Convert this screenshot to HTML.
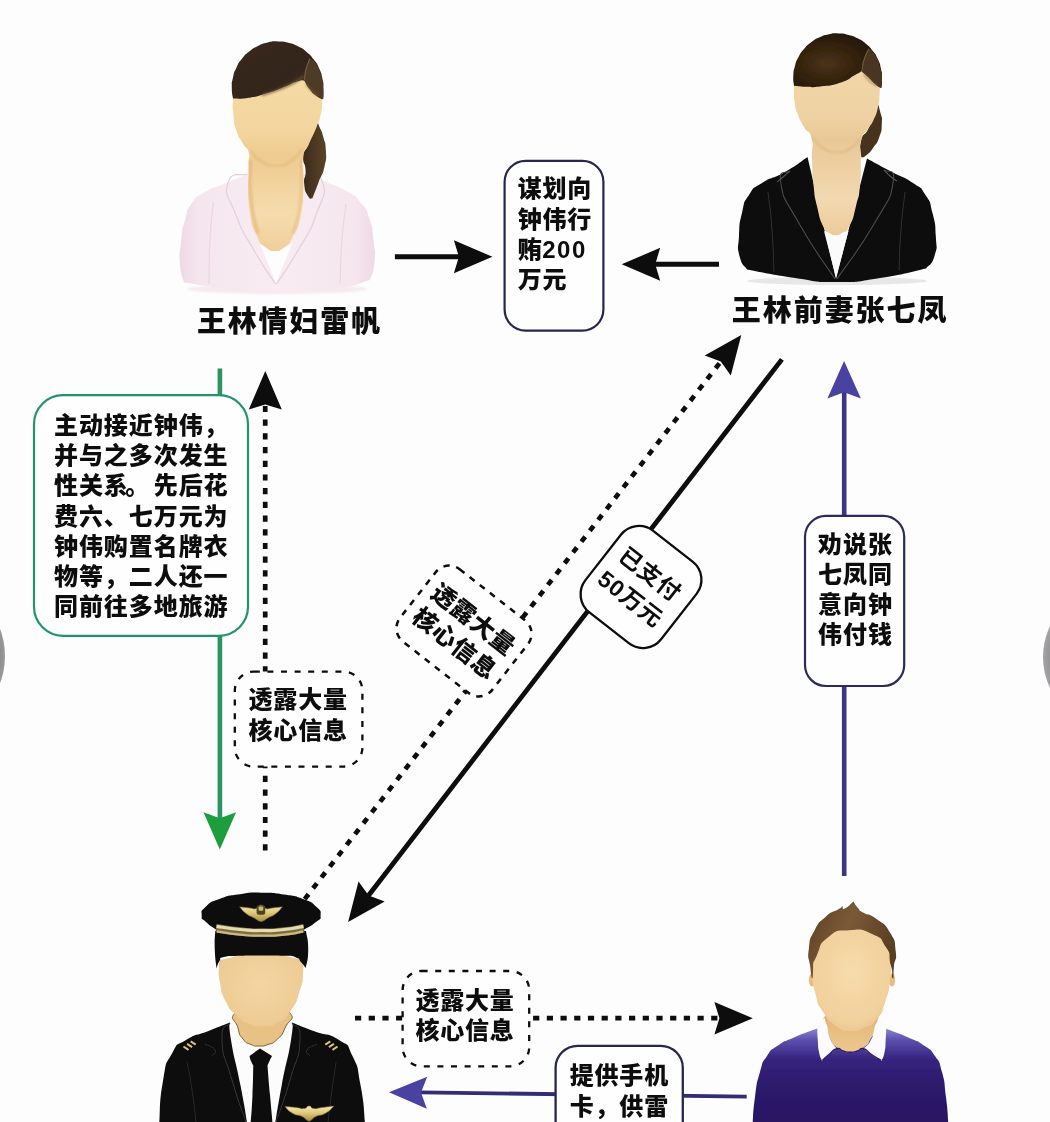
<!DOCTYPE html>
<html><head><meta charset="utf-8"><title>diagram</title>
<style>html,body{margin:0;padding:0;background:#fdfdfd;font-family:"Liberation Sans",sans-serif}svg{display:block}.t{stroke:#0d0d0d;stroke-linejoin:round}.lb{font-family:"Liberation Sans","Noto Sans CJK SC",sans-serif;font-weight:900;font-size:24px;fill:#0d0d0d}.lm{font-family:"Liberation Sans","Noto Sans CJK SC",sans-serif;font-weight:700;font-size:23px;fill:#0d0d0d}.ln{font-family:"Liberation Sans","Noto Sans CJK SC",sans-serif;font-weight:900;font-size:29px;fill:#0d0d0d}</style>
</head><body>
<svg width="1050" height="1122" viewBox="0 0 1050 1122">
<defs>
<radialGradient id="gbtn" cx="0.5" cy="0.5" r="0.5"><stop offset="0.85" stop-color="#7f7f82"/><stop offset="1" stop-color="#9a9a9d"/></radialGradient>
<radialGradient id="gbtn2" cx="0.5" cy="0.5" r="0.5"><stop offset="0.85" stop-color="#8c8c90"/><stop offset="1" stop-color="#a4a4a8"/></radialGradient>
<filter id="soft" x="-5%" y="-5%" width="110%" height="110%"><feGaussianBlur stdDeviation="0.45"/></filter>
<linearGradient id="a1hair" x1="0" y1="0" x2="1" y2="1"><stop offset="0" stop-color="#3a2a1b"/><stop offset="0.6" stop-color="#33251a"/><stop offset="1" stop-color="#54402a"/></linearGradient>
<radialGradient id="a1face" cx="0.5" cy="0.35" r="0.7"><stop offset="0" stop-color="#f8e0ae"/><stop offset="0.6" stop-color="#f3d49c"/><stop offset="1" stop-color="#e6bd7e"/></radialGradient>
<linearGradient id="a1skin" x1="0" y1="0" x2="0" y2="1"><stop offset="0" stop-color="#f5dba6"/><stop offset="0.35" stop-color="#f3d69f"/><stop offset="0.5" stop-color="#eecb90"/><stop offset="0.8" stop-color="#f5dcae"/><stop offset="1" stop-color="#efcf9a"/></linearGradient>
<filter id="b05" x="-5%" y="-5%" width="110%" height="110%"><feGaussianBlur stdDeviation="0.7"/></filter>
<filter id="b1" x="-20%" y="-20%" width="140%" height="140%"><feGaussianBlur stdDeviation="1.2"/></filter>
<linearGradient id="a1neck" x1="0" y1="0" x2="0" y2="1"><stop offset="0" stop-color="#e2b774"/><stop offset="0.25" stop-color="#ecc88c"/><stop offset="0.7" stop-color="#f6ddb0"/><stop offset="1" stop-color="#f0d09a"/></linearGradient>
<linearGradient id="a1jack" x1="0" y1="0" x2="1" y2="0"><stop offset="0" stop-color="#eed9e4"/><stop offset="0.1" stop-color="#f5e6ee"/><stop offset="0.5" stop-color="#f8ecf2"/><stop offset="0.9" stop-color="#f5e6ee"/><stop offset="1" stop-color="#eed9e4"/></linearGradient>
<linearGradient id="a1pony" x1="0" y1="0" x2="1" y2="0"><stop offset="0" stop-color="#3b2b1c"/><stop offset="1" stop-color="#5a4429"/></linearGradient>
<radialGradient id="a2hair" cx="0.38" cy="0.55" r="0.75"><stop offset="0" stop-color="#4b3417"/><stop offset="0.45" stop-color="#33220e"/><stop offset="1" stop-color="#1a1108"/></radialGradient>
<radialGradient id="a2face" cx="0.5" cy="0.4" r="0.75"><stop offset="0" stop-color="#f3d9ae"/><stop offset="0.7" stop-color="#edcda0"/><stop offset="1" stop-color="#ddb883"/></radialGradient>
<linearGradient id="a2skin" x1="0" y1="0" x2="0" y2="1"><stop offset="0" stop-color="#f1d7a9"/><stop offset="0.35" stop-color="#efd2a3"/><stop offset="0.48" stop-color="#e9c896"/><stop offset="0.8" stop-color="#f2d9b0"/><stop offset="1" stop-color="#ebcb9a"/></linearGradient>
<linearGradient id="a2neck" x1="0" y1="0" x2="0" y2="1"><stop offset="0" stop-color="#e4c08c"/><stop offset="0.3" stop-color="#ecce9f"/><stop offset="0.8" stop-color="#f3dbb4"/><stop offset="1" stop-color="#e9c999"/></linearGradient>
<radialGradient id="a3face" cx="0.5" cy="0.45" r="0.7"><stop offset="0" stop-color="#f3d6a3"/><stop offset="0.75" stop-color="#eecb94"/><stop offset="1" stop-color="#e2b878"/></radialGradient>
<linearGradient id="a3gold" x1="0" y1="0" x2="0" y2="1"><stop offset="0" stop-color="#f6ecb8"/><stop offset="0.5" stop-color="#dcc674"/><stop offset="1" stop-color="#a38d45"/></linearGradient>
<radialGradient id="a4face" cx="0.5" cy="0.42" r="0.72"><stop offset="0" stop-color="#f6dcac"/><stop offset="0.7" stop-color="#f1d09b"/><stop offset="1" stop-color="#e3b87a"/></radialGradient>
<linearGradient id="a4hair" x1="0" y1="0" x2="1" y2="0.4"><stop offset="0" stop-color="#5c4023"/><stop offset="0.5" stop-color="#7a5a36"/><stop offset="1" stop-color="#5a3f24"/></linearGradient>
<linearGradient id="a4sw" x1="0" y1="0" x2="0" y2="1"><stop offset="0" stop-color="#8a86cc"/><stop offset="0.12" stop-color="#5a50ae"/><stop offset="0.32" stop-color="#37237e"/><stop offset="0.6" stop-color="#2c1a6a"/><stop offset="1" stop-color="#2a1862"/></linearGradient>
<linearGradient id="a4neck" x1="0" y1="0" x2="0" y2="1"><stop offset="0" stop-color="#dcae6c"/><stop offset="0.5" stop-color="#e6bd80"/><stop offset="1" stop-color="#ecc88e"/></linearGradient>
</defs>
<g filter="url(#soft)">
<g fill="#0d0d0d">
<rect width="1050" height="1122" fill="#fdfdfd"/><circle cx="-73" cy="656" r="78" fill="url(#gbtn)"/><circle cx="1115" cy="657" r="72" fill="url(#gbtn2)"/><line x1="394.9" y1="256.7" x2="460" y2="256.7" stroke="#0b0b0b" stroke-width="5"/><polygon points="492.4,256.7 453.9,273.2 458.9,256.7 453.9,240.2" fill="#0b0b0b"/><line x1="719" y1="264.3" x2="655" y2="264.3" stroke="#0b0b0b" stroke-width="5"/><polygon points="621.7,264.3 660.2,247.8 655.2,264.3 660.2,280.8" fill="#0b0b0b"/><line x1="219.9" y1="368.5" x2="219.9" y2="820" stroke="#2c935f" stroke-width="4.6"/><polygon points="219.8,849.5 203.5,812.3 219.8,818.3 236.1,812.3" fill="#1f9e3e"/><line x1="265.2" y1="850.5" x2="265.2" y2="405" stroke="#0b0b0b" stroke-width="4.7" stroke-dasharray="6.2 7.5"/><polygon points="265.3,371.0 281.8,409.5 265.3,404.5 248.8,409.5" fill="#0b0b0b"/><line x1="781.9" y1="359.4" x2="366.4" y2="898.2" stroke="#0b0b0b" stroke-width="4.8"/><polygon points="348.1,922.0 358.5,881.4 368.6,895.5 384.7,901.6" fill="#0b0b0b"/><line x1="304.7" y1="899.1" x2="721.7" y2="360.4" stroke="#0b0b0b" stroke-width="4.7" stroke-dasharray="6.2 7.5"/><polygon points="741.3,335.1 730.8,375.6 720.8,361.6 704.7,355.4" fill="#0b0b0b"/><line x1="844.2" y1="876" x2="844.2" y2="392" stroke="#3b3486" stroke-width="4.6"/><polygon points="844.1,360.9 860.9,398.6 844.1,392.3 827.4,398.6" fill="#4a42a0"/><line x1="355" y1="1018.1" x2="722" y2="1018.1" stroke="#0b0b0b" stroke-width="4.7" stroke-dasharray="6.2 7.5"/><polygon points="752.8,1018.2 714.4,1034.5 719.4,1018.2 714.4,1001.9" fill="#0b0b0b"/><line x1="746.7" y1="1096.6" x2="420" y2="1092.4" stroke="#322e76" stroke-width="3.8"/><polygon points="389.0,1092.2 427.2,1076.7 421.0,1092.6 426.8,1108.7" fill="#4a42a0"/><rect x="504.6" y="160.8" width="98.8" height="169.8" rx="21" ry="21" fill="#fefefe" stroke="#27274f" stroke-width="2.2"/><g class="lb"><text x="517.75 542.55 567.35" y="197.25">谋划向</text><text x="517.75 542.55 567.35" y="227.60">钟伟行</text><text x="517.75 542.30 557.10 571.90" y="257.95">贿200</text><text x="517.75 542.55" y="288.30">万元</text></g><rect x="34" y="395.2" width="214.0" height="240.6" rx="29" ry="29" fill="#fefefe" stroke="#23946c" stroke-width="2.2"/><g class="lb"><text x="53.92 78.88 103.83 128.77 153.72 178.67 203.62" y="433.95">主动接近钟伟，</text><text x="53.92 78.88 103.83 128.77 153.72 178.67 203.62" y="464.20">并与之多次发生</text><text x="53.92 78.88 103.83 125.27 153.72 178.67 203.62" y="494.45">性关系。先后花</text><text x="53.92 78.88 103.83 128.77 153.72 178.67 203.62" y="524.70">费六、七万元为</text><text x="53.92 78.88 103.83 128.77 153.72 178.67 203.62" y="554.95">钟伟购置名牌衣</text><text x="53.92 78.88 103.83 128.77 153.72 178.67 203.62" y="585.20">物等，二人还一</text><text x="53.92 78.88 103.83 128.77 153.72 178.67 203.62" y="615.45">同前往多地旅游</text></g><rect x="234.8" y="671.6" width="127.6" height="95.0" rx="19" ry="19" fill="#fefefe" stroke="#0b0b0b" stroke-width="2.3" stroke-dasharray="6 7.6"/><g class="lb"><text x="248.55 273.35 298.15 322.95" y="708.25">透露大量</text><text x="248.55 273.35 298.15 322.95" y="739.25">核心信息</text></g><rect x="805" y="515.8" width="99.2" height="170.2" rx="21" ry="21" fill="#fefefe" stroke="#2a2960" stroke-width="2.2"/><g class="lb"><text x="817.95 842.95 867.95" y="552.65">劝说张</text><text x="817.95 842.95 867.95" y="582.75">七凤同</text><text x="817.95 842.95 867.95" y="612.85">意向钟</text><text x="817.95 842.95 867.95" y="642.95">伟付钱</text></g><rect x="402.6" y="971" width="126.6" height="95.3" rx="19" ry="19" fill="#fefefe" stroke="#0b0b0b" stroke-width="2.3" stroke-dasharray="6 7.6"/><g class="lb"><text x="415.45 440.25 465.05 489.85" y="1009.45">透露大量</text><text x="415.45 440.25 465.05 489.85" y="1039.15">核心信息</text></g><rect x="555.6" y="1045.8" width="127.2" height="114.2" rx="22" ry="22" fill="#fefefe" stroke="#27274f" stroke-width="2.3"/><g class="lb"><text x="569.75 594.55 619.35 644.15" y="1083.65">提供手机</text><text x="569.75 594.55 619.35 644.15" y="1115.15">卡，供雷</text></g><g transform="translate(464 631) rotate(38)"><rect x="-58.5" y="-46" width="117.0" height="92.0" rx="17" ry="17" fill="#fefefe" stroke="#0b0b0b" stroke-width="2.5" stroke-dasharray="6.2 6.6"/><g class="lb"><text x="-49.15 -24.35 0.45 25.25" y="-6.45">透露大量</text><text x="-49.15 -24.35 0.45 25.25" y="24.05">核心信息</text></g></g><g transform="translate(641 587) rotate(38)"><rect x="-48" y="-51.8" width="96.0" height="103.6" rx="23" ry="23" fill="#fefefe" stroke="#0b0b0b" stroke-width="2.3"/><g class="lm"><text x="-36.40 -12.60 11.20" y="-7.45">已支付</text><text x="-38.49 -24.80 -10.81 12.99" y="23.75">50万元</text></g></g><g class="ln"><text x="196.93 227.78 258.62 289.48 320.33 351.18" y="332.04">王林情妇雷帆</text></g><g class="ln"><text x="731.78 762.73 793.68 824.63 855.58 886.53 917.48" y="321.34">王林前妻张七凤</text></g>
</g>
<g id="av1">
<ellipse cx="277" cy="289" rx="90" ry="5" fill="#f1e2ea" opacity="0.7" filter="url(#b1)"/>
<path d="M247.5 174.0C240.0 177.2 239.2 177.5 225.0 183.5C210.8 189.5 216.0 185.5 205.0 192.0C194.0 198.5 198.7 193.7 192.0 203.0C185.3 212.3 188.7 207.0 185.0 220.0C181.3 233.0 182.7 227.3 181.0 242.0C179.3 256.7 179.0 250.5 180.0 264.0C181.0 277.5 182.7 276.3 184.0 282.5C200.7 284.8 203.3 286.5 234.0 289.5C264.7 292.5 242.7 291.8 276.0 291.5C309.3 291.2 302.7 292.3 334.0 288.5C365.3 284.7 358.0 282.8 370.0 280.0C371.5 274.0 373.3 275.3 374.5 262.0C375.7 248.7 375.2 254.3 373.5 240.0C371.8 225.7 373.7 231.3 369.5 219.0C365.3 206.7 368.5 212.2 361.0 203.0C353.5 193.8 359.7 198.8 347.0 191.5C334.3 184.2 337.5 186.5 323.0 181.0C308.5 175.5 310.0 177.0 303.5 175.0C294.3 211.5 285.2 248.0 276.0 284.5C266.5 247.7 257.0 210.8 247.5 174.0Z" fill="url(#a1jack)" filter="url(#b05)"/>
<path d="M247.5 174.0C241.0 177.0 231.8 169.3 228.0 183.0C224.2 196.7 227.0 192.0 236.0 215.0C245.0 238.0 241.8 229.0 255.0 252.0C268.2 275.0 268.7 273.3 275.5 284.0" fill="none" stroke="#e6d0dc" stroke-width="1.3"/>
<path d="M303.5 175.0C309.8 177.3 318.3 168.7 322.5 182.0C326.7 195.3 324.5 191.7 316.0 215.0C307.5 238.3 310.2 229.0 297.0 252.0C283.8 275.0 283.3 273.3 276.5 284.0" fill="none" stroke="#e6d0dc" stroke-width="1.3"/>
<path d="M213.5 202.0C212.3 214.7 211.5 212.7 210.0 240.0C208.5 267.3 209.3 269.3 209.0 284.0" fill="none" stroke="#ead6e0" stroke-width="1.2"/>
<path d="M346.0 204.0C344.7 216.0 344.0 213.3 342.0 240.0C340.0 266.7 340.7 269.3 340.0 284.0" fill="none" stroke="#ead6e0" stroke-width="1.2"/>
<path d="M315.0 118.0C317.8 116.0 316.7 120.7 319.5 127.0C322.3 133.3 321.2 129.2 323.3 137.0C325.4 144.8 325.5 140.5 325.9 150.5C326.3 160.5 326.9 156.3 324.4 167.0C321.9 177.7 322.5 172.0 318.5 182.5C314.5 193.0 314.4 193.2 312.3 198.5C310.9 197.7 310.7 200.8 308.0 196.0C305.3 191.2 305.0 192.5 304.2 184.0C303.4 175.5 305.9 179.5 305.6 170.5C305.3 161.5 302.7 165.2 303.2 157.0C303.7 148.8 304.4 154.0 307.0 146.0C309.6 138.0 308.3 142.3 311.0 133.0C313.7 123.7 312.2 120.0 315.0 118.0Z" fill="url(#a1pony)" />
<path d="M233.2 88.0C233.1 92.0 232.9 91.7 232.9 100.0C232.9 108.3 232.1 103.0 233.2 113.0C234.3 123.0 233.0 119.8 236.2 130.0C239.4 140.2 238.6 135.7 242.9 143.5C247.2 151.3 247.1 145.3 249.0 153.5C250.9 161.7 248.4 149.2 248.7 168.0C249.0 186.8 247.0 187.3 249.8 210.0C252.6 232.7 251.9 223.7 257.0 236.0C262.1 248.3 259.0 242.0 265.0 247.0C271.0 252.0 268.3 251.0 275.0 251.0C281.7 251.0 279.0 252.0 285.0 247.0C291.0 242.0 287.7 247.0 293.0 236.0C298.3 225.0 297.6 232.0 301.0 214.0C304.4 196.0 302.5 200.7 303.2 182.0C303.9 163.3 301.1 170.7 303.0 158.0C304.9 145.3 304.5 154.3 309.0 144.0C313.5 133.7 312.7 136.7 316.6 127.0C320.5 117.3 318.7 123.3 320.6 115.0C322.5 106.7 321.6 111.0 322.2 102.0C322.8 93.0 322.3 92.7 322.4 88.0C306.9 79.3 291.5 70.7 276.0 62.0C261.7 70.7 247.5 79.3 233.2 88.0Z" fill="url(#a1skin)" />
<path d="M251.0 151.0C254.3 154.3 252.7 156.2 261.0 161.0C269.3 165.8 266.0 165.5 276.0 165.5C286.0 165.5 282.3 166.5 291.0 161.0C299.7 155.5 298.3 153.0 302.0 149.0" fill="none" stroke="#dcb273" stroke-width="2.2" opacity="0.55" filter="url(#b1)"/>
<path d="M250.5 160.0C250.7 173.3 248.5 175.3 251.0 200.0C253.5 224.7 255.7 222.7 258.0 234.0" fill="none" stroke="#e0b170" stroke-width="3.5" opacity="0.6" filter="url(#b1)"/>
<path d="M301.5 160.0C301.2 173.3 303.3 175.3 300.5 200.0C297.7 224.7 295.5 222.7 293.0 234.0" fill="none" stroke="#e0b170" stroke-width="3" opacity="0.45" filter="url(#b1)"/>
<path d="M276.0 170.0C276.0 193.3 276.0 216.7 276.0 240.0" fill="none" stroke="#f9e6c0" stroke-width="14" opacity="0.45" filter="url(#b1)"/>
<path d="M259.5 243.0C262.0 244.8 261.8 245.7 267.0 248.5C272.2 251.3 269.7 251.5 275.0 251.5C280.3 251.5 277.2 251.3 283.0 248.5C288.8 245.7 289.3 244.8 292.5 243.0C287.0 256.3 281.5 269.7 276.0 283.0C270.5 269.7 265.0 256.3 259.5 243.0Z" fill="#fdfdfd" />
<path d="M233.0 98.5C232.6 95.0 231.8 95.0 231.8 88.1C231.8 81.1 231.4 84.4 233.0 77.6C234.5 70.8 233.4 74.0 236.4 67.7C239.3 61.4 237.6 64.3 241.9 58.8C246.2 53.4 243.8 55.7 249.2 51.4C254.6 47.1 251.8 48.9 258.0 45.9C264.1 42.9 261.1 44.0 267.7 42.5C274.4 41.0 271.2 41.3 278.0 41.4C284.8 41.5 281.6 41.1 288.2 42.7C294.9 44.3 291.8 43.2 297.9 46.3C304.1 49.3 301.3 47.5 306.6 51.9C311.9 56.4 309.6 54.0 313.8 59.5C318.0 65.0 316.3 62.1 319.2 68.4C322.0 74.8 321.0 71.6 322.4 78.4C323.8 85.2 323.5 81.9 323.4 88.9C323.3 95.8 322.5 95.8 322.0 99.3C320.0 98.0 320.0 98.8 316.0 95.5C312.0 92.2 313.9 94.5 310.0 89.5C306.1 84.5 306.1 83.5 304.2 80.5C301.8 80.8 304.1 79.2 297.0 81.5C289.9 83.8 293.3 83.5 283.0 87.5C272.7 91.5 277.3 90.1 266.0 93.5C254.7 96.9 260.0 96.1 249.0 97.8C238.0 99.5 238.3 98.3 233.0 98.5Z" fill="url(#a1hair)" />
<path d="M309.8 58.5C311.9 60.3 312.3 58.2 316.0 64.0C319.7 69.8 318.5 67.3 321.0 76.0C323.5 84.7 322.7 82.2 323.4 90.0C324.1 97.8 323.3 96.3 323.2 99.5C320.8 98.2 320.4 98.8 316.0 95.5C311.6 92.2 313.9 94.5 310.0 89.5C306.1 84.5 306.3 83.5 304.4 80.5C304.8 77.0 303.7 77.3 305.5 70.0C307.3 62.7 308.4 62.3 309.8 58.5Z" fill="#4e3b25" />
<path d="M309.8 58.5C308.5 62.3 307.5 62.8 305.8 70.0C304.1 77.2 305.0 76.7 304.6 80.0" fill="none" stroke="#7a6443" stroke-width="1.1" opacity="0.9"/>
<path d="M262.0 95.0C268.0 93.0 268.7 93.5 280.0 89.0C291.3 84.5 288.3 85.8 296.0 81.5C303.7 77.2 300.7 77.8 303.0 76.0" fill="none" stroke="#6d5738" stroke-width="2.4" opacity="0.75" filter="url(#b1)"/>
<path d="M306.0 84.0C308.0 86.3 308.0 87.0 312.0 91.0C316.0 95.0 316.0 94.3 318.0 96.0" fill="none" stroke="#75603e" stroke-width="1.6" opacity="0.7" filter="url(#b1)"/>
</g>
<g id="av2">
<ellipse cx="837" cy="281" rx="90" ry="4" fill="#d8d8d8" opacity="0.6"/>
<path d="M876.0 104.0C878.5 102.3 878.6 106.3 880.5 113.0C882.4 119.7 882.2 116.0 881.8 124.0C881.4 132.0 882.2 129.0 879.3 137.0C876.4 145.0 877.4 141.8 873.0 148.0C868.6 154.2 869.9 152.3 866.0 155.5C862.1 158.7 862.9 156.8 861.3 157.5C861.2 152.0 858.8 150.3 861.0 141.0C863.2 131.7 864.0 137.2 868.0 129.5C872.0 121.8 870.3 126.5 873.0 118.0C875.7 109.5 873.5 105.7 876.0 104.0Z" fill="#46331e" />
<path d="M807.5 157.0C800.0 162.0 800.2 163.3 785.0 172.0C769.8 180.7 774.0 175.3 762.0 183.0C750.0 190.7 755.7 185.0 749.0 195.0C742.3 205.0 745.3 199.3 742.0 213.0C738.7 226.7 739.8 221.7 739.0 236.0C738.2 250.3 736.8 244.8 739.5 256.0C742.2 267.2 744.5 265.0 747.0 269.5C763.0 272.3 765.3 273.8 795.0 278.0C824.7 282.2 807.7 282.0 836.0 282.0C864.3 282.0 850.0 282.5 880.0 278.0C910.0 273.5 910.7 271.7 926.0 268.5C928.8 264.3 931.2 266.8 934.5 256.0C937.8 245.2 936.5 250.3 935.8 236.0C935.1 221.7 935.9 226.7 932.5 213.0C929.1 199.3 932.0 205.0 925.5 195.0C919.0 185.0 924.8 191.0 913.0 183.0C901.2 175.0 905.3 179.2 890.0 171.0C874.7 162.8 874.7 162.7 867.0 158.5C856.7 198.7 846.3 238.8 836.0 279.0C826.5 238.3 817.0 197.7 807.5 157.0Z" fill="#0c0c0e" />
<path d="M794.2 78.0C794.1 82.7 793.9 84.0 794.0 92.0C794.1 100.0 793.5 94.8 794.6 102.0C795.7 109.2 794.3 105.2 797.4 113.5C800.5 121.8 799.3 118.7 804.0 127.0C808.7 135.3 808.9 127.5 811.6 138.5C814.3 149.5 811.4 144.5 812.0 160.0C812.6 175.5 811.8 169.7 813.5 185.0C815.2 200.3 813.8 192.3 817.0 206.0C820.2 219.7 819.0 217.0 823.0 226.0C827.0 235.0 824.8 229.8 829.0 233.0C833.2 236.2 831.2 235.5 835.5 235.5C839.8 235.5 837.3 236.2 842.0 233.0C846.7 229.8 844.8 235.0 849.5 226.0C854.2 217.0 852.5 219.7 856.0 206.0C859.5 192.3 858.4 201.3 860.0 185.0C861.6 168.7 860.5 171.7 860.8 157.0C861.1 142.3 858.6 150.5 861.0 141.0C863.4 131.5 863.8 135.5 868.0 128.5C872.2 121.5 870.2 127.2 873.5 120.0C876.8 112.8 876.0 115.7 878.0 107.0C880.0 98.3 879.0 103.7 879.6 94.0C880.2 84.3 879.7 83.3 879.8 78.0C865.2 69.3 850.6 60.7 836.0 52.0C822.1 60.7 808.1 69.3 794.2 78.0Z" fill="url(#a2skin)" />
<path d="M813.0 138.0C816.3 141.3 815.0 143.3 823.0 148.0C831.0 152.7 827.7 152.0 837.0 152.0C846.3 152.0 843.3 152.7 851.0 148.0C858.7 143.3 857.0 141.3 860.0 138.0" fill="none" stroke="#d6b17a" stroke-width="2.2" opacity="0.5" filter="url(#b1)"/>
<path d="M824.0 231.0C825.8 231.8 825.7 232.0 829.5 233.5C833.3 235.0 831.3 235.5 835.5 235.5C839.7 235.5 837.7 235.0 842.0 233.5C846.3 232.0 846.3 231.8 848.5 231.0C844.3 246.5 840.2 262.0 836.0 277.5C832.0 262.0 828.0 246.5 824.0 231.0Z" fill="#fbfbfb" />
<path d="M790.0 171.0C787.0 175.3 777.7 166.0 781.0 184.0C784.3 202.0 782.0 193.3 800.0 225.0C818.0 256.7 823.3 261.0 835.0 279.0" fill="none" stroke="#4a4a4e" stroke-width="1.1"/>
<path d="M884.0 170.0C887.0 174.3 896.3 165.0 893.0 183.0C889.7 201.0 892.7 192.0 874.0 224.0C855.3 256.0 849.3 260.7 837.0 279.0" fill="none" stroke="#4a4a4e" stroke-width="1.1"/>
<path d="M790.0 171.0C787.7 173.0 787.3 173.3 783.0 177.0C778.7 180.7 779.0 180.3 777.0 182.0" fill="none" stroke="#55555a" stroke-width="1.1"/>
<path d="M884.0 170.0C886.0 172.0 885.7 172.3 890.0 176.0C894.3 179.7 894.7 179.3 897.0 181.0" fill="none" stroke="#55555a" stroke-width="1.1"/>
<path d="M768.0 192.0C769.3 204.7 770.0 203.3 772.0 230.0C774.0 256.7 773.3 258.0 774.0 272.0" fill="none" stroke="#333338" stroke-width="1"/>
<path d="M905.0 192.0C903.7 204.7 903.0 204.0 901.0 230.0C899.0 256.0 899.7 256.7 899.0 270.0" fill="none" stroke="#333338" stroke-width="1"/>
<path d="M794.0 85.7C793.8 82.5 793.0 82.4 793.3 75.9C793.7 69.4 793.2 72.5 794.9 66.2C796.6 59.9 795.5 62.8 798.5 57.1C801.6 51.3 799.8 53.9 804.0 49.0C808.3 44.0 806.0 46.1 811.2 42.3C816.4 38.4 813.7 39.9 819.7 37.3C825.6 34.7 822.6 35.6 829.0 34.3C835.4 33.1 832.3 33.3 838.8 33.5C845.2 33.7 842.2 33.3 848.5 34.9C854.7 36.5 851.8 35.4 857.6 38.3C863.4 41.3 860.8 39.5 865.8 43.7C870.8 47.8 868.7 45.6 872.6 50.8C876.6 55.9 875.0 53.2 877.7 59.1C880.5 65.1 879.5 62.1 880.9 68.5C882.3 74.8 881.9 71.7 881.9 78.2C881.9 84.8 881.1 84.8 880.8 88.0C879.2 86.8 879.9 88.0 876.0 84.5C872.1 81.0 873.8 81.9 869.0 77.5C864.2 73.1 864.1 73.4 861.6 71.3C859.4 72.5 862.2 71.2 855.0 75.0C847.8 78.8 851.7 79.0 840.0 82.8C828.3 86.6 831.3 85.2 820.0 86.5C808.7 87.8 814.7 87.1 806.0 86.8C797.3 86.5 798.0 86.1 794.0 85.7Z" fill="url(#a2hair)" />
<path d="M868.8 48.8C870.9 50.9 871.3 48.9 875.0 55.0C878.7 61.1 877.7 58.7 880.0 67.0C882.3 75.3 881.3 72.9 881.8 80.0C882.3 87.1 881.7 85.5 881.6 88.2C879.6 87.0 879.9 88.1 875.5 84.5C871.1 80.9 873.1 81.8 868.5 77.5C863.9 73.2 864.0 73.5 861.8 71.5C862.4 67.7 861.2 67.6 863.5 60.0C865.8 52.4 867.0 52.5 868.8 48.8Z" fill="#4a3620" />
<path d="M868.8 48.8C867.2 52.5 866.3 52.6 864.0 60.0C861.7 67.4 862.7 67.3 862.0 71.0" fill="none" stroke="#77603d" stroke-width="1.1" opacity="0.85"/>
<path d="M864.0 74.5C866.0 76.7 865.7 77.2 870.0 81.0C874.3 84.8 874.7 84.3 877.0 86.0" fill="none" stroke="#7a6543" stroke-width="1.6" opacity="0.7" filter="url(#b1)"/>
</g>
<g id="av3">
<path d="M230.0 1022.5C222.8 1025.3 223.2 1025.2 208.5 1031.0C193.8 1036.8 198.2 1032.5 186.0 1040.0C173.8 1047.5 179.7 1039.8 172.0 1053.5C164.3 1067.2 167.3 1057.2 163.0 1081.0C158.7 1104.8 160.5 1110.3 159.2 1125.0C227.9 1125.0 296.6 1125.0 365.3 1125.0C363.7 1111.8 364.9 1108.5 360.6 1085.5C356.3 1062.5 359.7 1071.2 352.5 1056.0C345.3 1040.8 352.0 1048.3 339.0 1040.0C326.0 1031.7 329.2 1036.8 313.5 1031.0C297.8 1025.2 299.2 1025.3 292.0 1022.5C281.7 1035.0 271.3 1047.5 261.0 1060.0C250.7 1047.5 240.3 1035.0 230.0 1022.5Z" fill="#0b0b0c" />
<path d="M230.3 1021.0C230.5 1027.3 227.6 1018.5 231.0 1040.0C234.4 1061.5 235.0 1057.2 240.5 1085.5C246.0 1113.8 245.2 1111.8 247.5 1125.0C256.7 1125.0 265.8 1125.0 275.0 1125.0C277.2 1111.8 276.4 1113.8 281.7 1085.5C287.0 1057.2 287.6 1061.5 291.0 1040.0C294.4 1018.5 291.7 1027.3 292.0 1021.0C281.7 1024.0 281.6 1030.0 261.0 1030.0C240.4 1030.0 240.5 1024.0 230.3 1021.0Z" fill="#fcfcfc" />
<path d="M236.0 1012.0C228.0 1019.7 235.7 1019.0 238.0 1028.0C240.3 1037.0 238.7 1033.5 243.0 1039.0C247.3 1044.5 245.7 1042.2 251.0 1044.5C256.3 1046.8 253.3 1046.0 259.0 1046.0C264.7 1046.0 262.0 1046.7 268.0 1044.5C274.0 1042.3 271.3 1045.0 277.0 1039.5C282.7 1034.0 281.0 1037.2 285.0 1028.0C289.0 1018.8 296.7 1019.7 289.0 1012.0C281.3 1004.3 279.7 1005.0 262.0 1005.0C244.3 1005.0 244.0 1004.3 236.0 1012.0Z" fill="#e8c184" stroke="#6b5530" stroke-width="0.9" />
<path d="M249.5 1056.0C253.0 1053.5 256.5 1051.0 260.0 1048.5C264.0 1051.0 268.0 1053.5 272.0 1056.0C271.2 1057.7 271.0 1057.8 269.5 1061.0C268.0 1064.2 268.2 1064.0 267.5 1065.5C268.3 1075.3 268.2 1075.2 270.0 1095.0C271.8 1114.8 271.9 1115.0 272.8 1125.0C265.4 1125.0 258.0 1125.0 250.6 1125.0C251.2 1115.0 251.6 1114.8 252.5 1095.0C253.4 1075.2 253.0 1075.3 253.3 1065.5C252.5 1064.0 252.3 1064.2 251.0 1061.0C249.7 1057.8 250.0 1057.7 249.5 1056.0Z" fill="#0a0a0b" />
<path d="M230.0 1023.0C227.3 1028.7 221.3 1021.0 222.0 1040.0C222.7 1059.0 224.0 1052.7 232.0 1080.0C240.0 1107.3 241.3 1108.0 246.0 1122.0" fill="none" stroke="#3a3a3e" stroke-width="1"/>
<path d="M292.0 1023.0C294.7 1028.7 300.7 1021.0 300.0 1040.0C299.3 1059.0 298.0 1052.7 290.0 1080.0C282.0 1107.3 280.7 1108.0 276.0 1122.0" fill="none" stroke="#3a3a3e" stroke-width="1"/>
<path d="M205.0 1044.0C208.3 1046.0 212.7 1046.0 215.0 1050.0C217.3 1054.0 213.0 1054.0 212.0 1056.0" fill="none" stroke="#333" stroke-width="1"/>
<path d="M317.0 1044.0C313.7 1046.0 309.3 1046.0 307.0 1050.0C304.7 1054.0 309.0 1054.0 310.0 1056.0" fill="none" stroke="#333" stroke-width="1"/>
<path d="M187.0 1062.0C188.7 1071.3 189.0 1070.0 192.0 1090.0C195.0 1110.0 194.7 1111.3 196.0 1122.0" fill="none" stroke="#2c2c30" stroke-width="1"/>
<path d="M336.0 1062.0C334.7 1071.3 334.7 1070.0 332.0 1090.0C329.3 1110.0 329.3 1111.3 328.0 1122.0" fill="none" stroke="#2c2c30" stroke-width="1"/>
<line x1="183.5" y1="1046.5" x2="188.5" y2="1049.8" stroke="#d9c47c" stroke-width="2" transform="rotate(0)"/>
<line x1="337.5" y1="1046.5" x2="332.5" y2="1049.8" stroke="#d9c47c" stroke-width="2"/>
<line x1="187.1" y1="1043.9" x2="192.1" y2="1047.2" stroke="#d9c47c" stroke-width="2" transform="rotate(0)"/>
<line x1="333.9" y1="1043.9" x2="328.9" y2="1047.2" stroke="#d9c47c" stroke-width="2"/>
<line x1="190.7" y1="1041.3" x2="195.7" y2="1044.6" stroke="#d9c47c" stroke-width="2" transform="rotate(0)"/>
<line x1="330.3" y1="1041.3" x2="325.3" y2="1044.6" stroke="#d9c47c" stroke-width="2"/>
<path d="M285.0 1106.5C288.7 1106.8 289.7 1106.8 296.0 1107.5C302.3 1108.2 299.7 1109.0 304.0 1108.5C308.3 1108.0 305.7 1106.0 309.0 1106.0C312.3 1106.0 309.7 1108.0 314.0 1108.5C318.3 1109.0 315.3 1108.3 322.0 1107.5C328.7 1106.7 330.0 1106.5 334.0 1106.0C331.3 1108.3 332.0 1109.5 326.0 1113.0C320.0 1116.5 320.7 1114.3 316.0 1116.5C311.3 1118.7 314.3 1118.0 312.0 1119.5C309.7 1121.0 311.0 1121.0 309.0 1121.0C307.0 1121.0 308.3 1121.0 306.0 1119.5C303.7 1118.0 306.7 1118.7 302.0 1116.5C297.3 1114.3 297.7 1116.3 292.0 1113.0C286.3 1109.7 287.3 1108.7 285.0 1106.5Z" fill="url(#a3gold)" stroke="#7a6a30" stroke-width="0.6" />
<path d="M219.0 966.0C218.8 973.7 217.8 971.3 220.0 983.0C222.2 994.7 220.2 990.3 225.5 1001.0C230.8 1011.7 228.0 1007.3 236.0 1015.0C244.0 1022.7 240.5 1020.2 249.5 1024.0C258.5 1027.8 253.8 1026.6 263.0 1026.3C272.2 1026.0 267.7 1028.3 277.0 1023.0C286.3 1017.7 283.3 1021.5 291.0 1010.5C298.7 999.5 296.0 1002.2 300.0 990.0C304.0 977.8 302.2 984.0 303.0 974.0C303.8 964.0 302.7 964.7 302.5 960.0C289.0 956.7 275.5 953.3 262.0 950.0C248.2 953.3 234.3 956.7 220.5 960.0C220.0 962.0 219.2 958.3 219.0 966.0Z" fill="url(#a3face)" />
<path d="M215.2 931.0C215.1 937.3 214.3 937.5 214.8 950.0C215.3 962.5 216.0 962.3 216.6 968.5C217.6 966.0 217.0 964.8 219.5 961.0C222.0 957.2 217.2 958.7 224.0 957.0C230.8 955.3 227.3 956.3 240.0 955.8C252.7 955.3 247.3 955.6 262.0 955.6C276.7 955.6 272.7 955.2 284.0 955.8C295.3 956.4 290.3 955.4 296.0 957.5C301.7 959.6 297.7 958.5 301.0 962.0C304.3 965.5 304.2 966.0 305.8 968.0C306.6 962.0 308.1 962.3 308.2 950.0C308.3 937.7 306.7 937.3 306.0 931.0C291.3 929.7 292.3 927.0 262.0 927.0C231.7 927.0 230.8 929.7 215.2 931.0Z" fill="#0a0a0a" />
<path d="M201.7 915.5C201.7 910.3 199.9 912.1 206.0 906.5C212.1 900.9 208.7 902.9 220.0 898.8C231.3 894.7 226.3 896.3 240.0 894.3C253.7 892.3 246.3 892.6 261.0 892.7C275.7 892.8 270.0 892.4 284.0 894.5C298.0 896.6 292.3 895.0 303.0 899.0C313.7 903.0 310.1 901.0 316.0 906.5C321.9 912.0 320.6 910.3 320.6 915.5C320.6 920.7 321.7 917.2 316.0 922.0C310.3 926.8 307.7 927.3 303.5 930.0C289.7 931.2 291.0 933.5 262.0 933.5C233.0 933.5 231.7 931.2 216.5 930.0C213.0 927.3 210.9 926.8 206.0 922.0C201.1 917.2 201.7 920.7 201.7 915.5Z" fill="#0c0c0d" />
<path d="M216.2 928.2C224.1 929.3 224.7 930.1 240.0 931.6C255.3 933.1 247.3 932.6 262.0 932.6C276.7 932.6 270.1 933.1 284.0 931.6C297.9 930.1 297.2 929.3 303.8 928.2" fill="none" stroke="#7d6d3c" stroke-width="8.5"/>
<path d="M216.5 926.3C224.3 927.4 224.8 928.1 240.0 929.5C255.2 930.9 247.3 930.5 262.0 930.5C276.7 930.5 270.2 930.9 284.0 929.5C297.8 928.1 297.0 927.4 303.5 926.3" fill="none" stroke="#e4dbb0" stroke-width="3.2"/>
<path d="M217.0 931.3C224.7 932.4 225.0 933.2 240.0 934.6C255.0 936.0 247.3 935.6 262.0 935.6C276.7 935.6 270.3 936.0 284.0 934.6C297.7 933.2 296.7 932.4 303.0 931.3" fill="none" stroke="#cbbb80" stroke-width="2.2"/>
<path d="M239.5 906.8C243.0 907.2 244.5 907.4 250.0 908.0C255.5 908.6 252.3 909.5 256.0 908.5C259.7 907.5 257.7 905.0 261.0 905.0C264.3 905.0 262.3 907.5 266.0 908.5C269.7 909.5 266.5 908.6 272.0 908.0C277.5 907.4 279.0 907.2 282.5 906.8C280.3 909.0 280.8 909.8 276.0 913.5C271.2 917.2 272.0 915.7 268.0 918.0C264.0 920.3 266.3 919.3 264.0 920.5C261.7 921.7 263.0 921.5 261.0 921.5C259.0 921.5 260.3 921.7 258.0 920.5C255.7 919.3 258.0 920.3 254.0 918.0C250.0 915.7 250.8 917.2 246.0 913.5C241.2 909.8 241.7 909.0 239.5 906.8Z" fill="url(#a3gold)" stroke="#6e5f2b" stroke-width="0.6" />
<rect x="256.6" y="905.2" width="8.6" height="9.6" rx="2" fill="#4e4420"/>
<rect x="258.6" y="906.6" width="4.6" height="4.2" rx="1" fill="#cdbb72"/>
</g>
<g id="av4">
<path d="M817.0 1028.5C809.3 1031.5 807.0 1031.8 794.0 1037.5C781.0 1043.2 787.0 1039.3 778.0 1045.5C769.0 1051.7 773.0 1047.2 767.0 1056.0C761.0 1064.8 764.0 1058.3 760.0 1072.0C756.0 1085.7 757.5 1079.3 755.0 1097.0C752.5 1114.7 753.4 1115.7 752.6 1125.0C817.9 1125.0 883.2 1125.0 948.5 1125.0C947.7 1115.7 948.2 1114.7 946.0 1097.0C943.8 1079.3 945.7 1085.7 942.0 1072.0C938.3 1058.3 941.0 1064.8 935.0 1056.0C929.0 1047.2 932.9 1051.7 924.0 1045.5C915.1 1039.3 921.2 1043.2 908.3 1037.5C895.4 1031.8 893.0 1031.5 885.4 1028.5C874.3 1032.3 874.8 1040.0 852.0 1040.0C829.2 1040.0 828.7 1032.3 817.0 1028.5Z" fill="url(#a4sw)" />
<path d="M827.0 1014.0C819.2 1021.7 826.3 1019.7 827.5 1028.0C828.7 1036.3 827.3 1032.5 830.5 1039.0C833.7 1045.5 830.4 1043.0 837.0 1047.5C843.6 1052.0 841.4 1052.5 850.2 1052.5C859.0 1052.5 856.6 1052.0 863.4 1047.5C870.2 1043.0 866.8 1045.5 870.5 1039.0C874.2 1032.5 872.8 1036.3 874.5 1028.0C876.2 1019.7 883.3 1021.7 875.5 1014.0C867.7 1006.3 867.2 1005.0 851.0 1005.0C834.8 1005.0 834.8 1006.3 827.0 1014.0Z" fill="url(#a4neck)" />
<path d="M824.5 1018.0C822.1 1020.8 819.6 1023.7 817.2 1026.5C817.4 1031.0 817.2 1031.5 817.8 1040.0C818.4 1048.5 817.6 1045.0 819.0 1052.0C820.4 1059.0 821.1 1058.0 822.1 1061.0C824.4 1059.0 824.1 1059.1 829.0 1055.0C833.9 1050.9 834.2 1050.9 836.8 1048.8C834.4 1044.9 833.6 1047.3 829.5 1037.0C825.4 1026.7 826.2 1024.3 824.5 1018.0Z" fill="#fbfbfd" />
<path d="M878.2 1018.0C880.9 1020.8 883.6 1023.7 886.3 1026.5C886.1 1031.0 886.3 1031.5 885.7 1040.0C885.1 1048.5 886.0 1045.0 884.6 1052.0C883.2 1059.0 882.5 1058.0 881.4 1061.0C878.1 1059.0 877.4 1059.1 871.5 1055.0C865.6 1050.9 866.2 1050.9 863.6 1048.8C866.6 1044.9 867.6 1047.3 872.5 1037.0C877.4 1026.7 876.3 1024.3 878.2 1018.0Z" fill="#fbfbfd" />
<path d="M822.5 1060.5C824.7 1058.5 824.2 1058.4 829.0 1054.5C833.8 1050.6 832.1 1050.0 836.8 1048.8C841.5 1047.6 838.5 1049.8 843.0 1051.0C847.5 1052.2 845.4 1052.3 850.2 1052.3C855.0 1052.3 853.0 1052.2 857.5 1051.0C862.0 1049.8 858.9 1047.6 863.6 1048.8C868.3 1050.0 865.7 1050.6 871.5 1054.5C877.3 1058.4 877.8 1058.5 881.0 1060.5" fill="none" stroke="#2b1a68" stroke-width="1.5"/>
<ellipse cx="812" cy="980" rx="3.2" ry="6.5" fill="#e6bd80"/><ellipse cx="892" cy="980" rx="3.2" ry="6.5" fill="#e6bd80"/>
<path d="M813.4 978.0C810.7 979.7 811.5 974.8 810.0 965.0C808.5 955.2 807.4 960.0 808.9 948.5C810.4 937.0 808.8 941.2 814.5 930.5C820.2 919.8 818.2 923.5 826.0 916.5C833.8 909.5 832.5 913.0 838.0 909.5C843.5 906.0 841.0 907.2 842.5 906.0C843.3 906.8 841.4 910.0 845.0 908.5C848.6 907.0 850.6 903.8 853.4 901.5C854.9 903.7 854.8 904.3 858.0 908.0C861.2 911.7 856.8 908.8 863.0 912.5C869.2 916.2 867.5 912.3 876.5 919.0C885.5 925.7 883.6 921.8 890.0 932.5C896.4 943.2 894.4 939.8 895.7 951.0C897.0 962.2 895.1 957.0 894.0 966.0C892.9 975.0 894.5 980.0 892.5 978.0C890.5 976.0 895.5 972.7 888.0 960.0C880.5 947.3 882.7 948.3 870.0 940.0C857.3 931.7 863.3 934.3 850.0 935.0C836.7 935.7 840.7 933.7 830.0 942.0C819.3 950.3 823.5 948.0 818.0 960.0C812.5 972.0 816.1 976.3 813.4 978.0Z" fill="url(#a4hair)" />
<path d="M813.0 972.0C812.5 985.0 812.0 980.5 815.5 994.0C819.0 1007.5 816.2 1001.5 823.5 1012.5C830.8 1023.5 828.3 1020.8 837.5 1027.0C846.7 1033.2 842.7 1030.5 851.0 1031.0C859.3 1031.5 854.0 1032.3 862.5 1028.5C871.0 1024.7 868.8 1028.7 876.5 1019.5C884.2 1010.3 881.0 1014.2 885.5 1001.0C890.0 987.8 888.5 993.0 890.0 980.0C891.5 967.0 891.5 973.2 890.0 962.0C888.5 950.8 891.5 955.8 885.5 946.5C879.5 937.2 884.2 939.4 872.0 934.0C859.8 928.6 863.5 929.3 849.0 930.3C834.5 931.3 839.2 928.8 828.5 937.0C817.8 945.2 822.2 943.3 817.0 955.0C811.8 966.7 813.5 959.0 813.0 972.0Z" fill="url(#a4face)" />
</g>
</g>
</svg>
</body></html>
